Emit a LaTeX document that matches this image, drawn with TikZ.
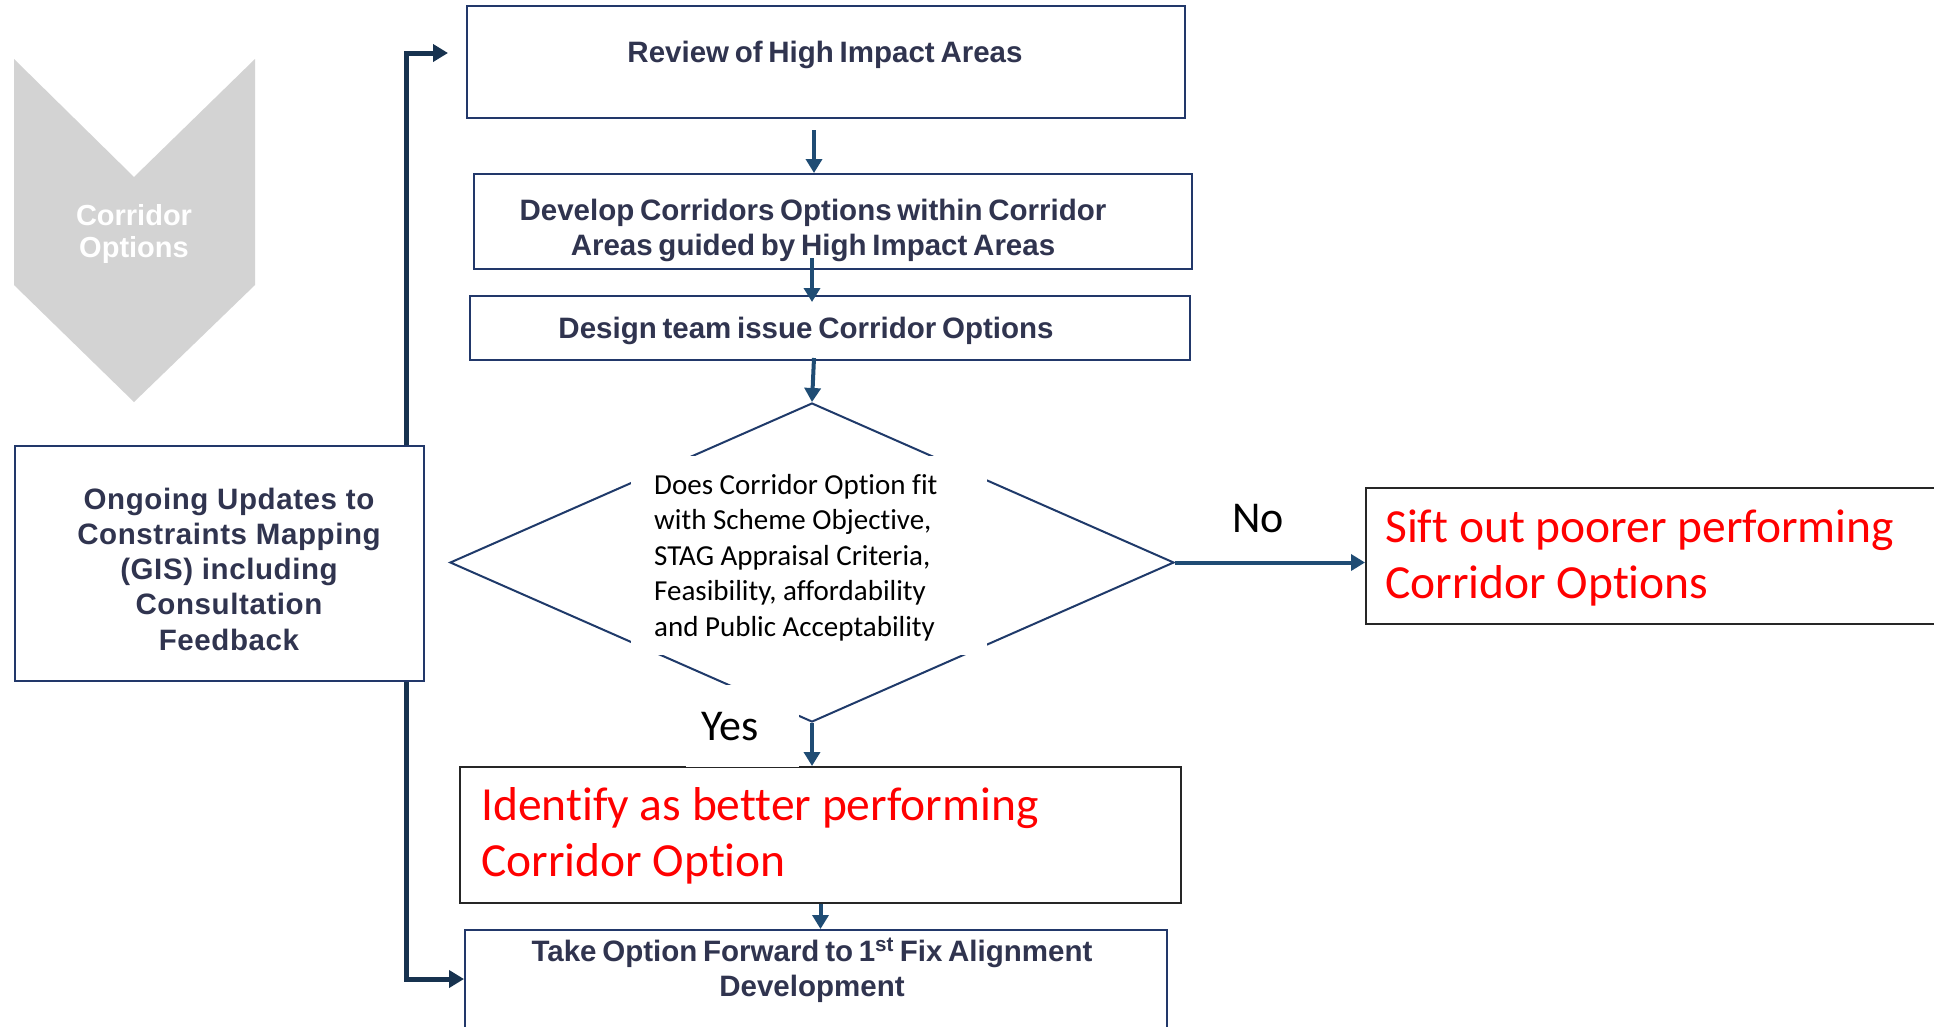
\documentclass[tikz,border=0pt]{standalone}
\usepackage{fontspec}
\setmainfont[Ligatures=NoCommon]{Carlito}
\newfontfamily\boxfont[WordSpace=0.7]{Liberation Sans}
\newfontfamily\fbfont[LetterSpace=2]{Liberation Sans}
\usetikzlibrary{arrows.meta,shapes.geometric}
\definecolor{boxblue}{HTML}{22386A}
\definecolor{txtnavy}{HTML}{30344F}
\definecolor{arrblue}{HTML}{1F4C74}
\definecolor{fbblue}{HTML}{17324F}
\definecolor{diablue}{HTML}{1F3A6A}
\definecolor{chevgray}{HTML}{D3D3D3}
\begin{document}
\begin{tikzpicture}[x=1pt,y=-1pt,
  box/.style={draw=boxblue, line width=2pt, inner sep=0pt, anchor=north west},
  redbox/.style={draw=black!85, line width=2pt, inner sep=0pt, anchor=north west, fill=white},
  bt/.style={inner sep=0pt, anchor=base, text=txtnavy, font=\boxfont\bfseries\fontsize{29.5}{35.3}\selectfont},
  rt/.style={inner sep=0pt, anchor=base west, text=red, font=\fontsize{47.5}{56.5}\selectfont},
  lbl/.style={inner sep=0pt, anchor=base west, text=black, font=\fontsize{44}{50}\selectfont},
  arr/.style={draw=arrblue, line width=4pt, -{Triangle[length=14pt,width=16pt]}},
  fbarr/.style={draw=fbblue, line width=5pt, -{Triangle[length=15pt,width=17pt]}}]
\useasboundingbox (0,0) rectangle (1934,1026);
\clip (0,0) rectangle (1934,1026);
\fill[white] (0,0) rectangle (1934,1026);

% chevron
\fill[chevgray] (14,59) -- (134,177) -- (255,59) -- (255,285) -- (134,402) -- (14,285) -- cycle;
\node[bt, text=white, font=\boxfont\bfseries\fontsize{29}{32}\selectfont] (chevt) at (134,225)
  {\parbox[t]{200pt}{\centering Corridor\\Options}};

% boxes
\node[box, minimum width=718pt, minimum height=112pt] (review) at (466,5) {};
\node[bt] (reviewt) at (825,62) {Review of High Impact Areas};

\node[box, minimum width=718pt, minimum height=95pt] (dev) at (473,173) {};
\node[bt] (devt) at (813,220) {\parbox[t]{700pt}{\centering Develop Corridors Options within Corridor\\Areas guided by High Impact Areas}};

\node[box, minimum width=720pt, minimum height=64pt] (design) at (469,295) {};
\node[bt] (designt) at (806,338) {Design team issue Corridor Options};

\node[box, minimum width=409pt, minimum height=235pt] (fb) at (14,445) {};
\node[bt, font=\fbfont\bfseries\fontsize{29.5}{35.3}\selectfont] (fbt) at (229,509)
  {\parbox[t]{400pt}{\centering Ongoing Updates to\\Constraints Mapping\\(GIS) including\\Consultation\\Feedback}};

\node[redbox, minimum width=580pt, minimum height=136pt] (sift) at (1365,487) {};
\node[rt] (siftt) at (1385,542) {\parbox[t]{560pt}{Sift out poorer performing\\Corridor Options}};

\node[redbox, minimum width=721pt, minimum height=136pt] (ident) at (459,766) {};
\node[rt] (identt) at (481,820) {\parbox[t]{690pt}{Identify as better performing\\Corridor Option}};

\node[box, minimum width=702pt, minimum height=98pt] (take) at (464,929) {};
\node[bt] (taket) at (812,961) {\parbox[t]{700pt}{\centering Take Option Forward to 1\textsuperscript{st} Fix Alignment\\Development}};

% decision
\node[diamond, draw=diablue, line width=2pt, minimum width=724pt, minimum height=319pt, inner sep=0pt] (dec) at (812,562.5) {};
\node[fill=white, minimum width=356pt, minimum height=199pt, inner sep=0pt, anchor=north west] (qbg) at (631,456) {};
\node[inner sep=0pt, anchor=base west, font=\fontsize{29}{35.5}\selectfont] (qt) at (654,494)
  {\parbox[t]{330pt}{Does Corridor Option fit\\with Scheme Objective,\\STAG Appraisal Criteria,\\Feasibility, affordability\\and Public Acceptability}};

% labels
\node[fill=white, minimum width=113pt, minimum height=82pt, inner sep=0pt, anchor=north west] (yesbg) at (686,685) {};
\node[lbl] (yes) at (701,740) {Yes};
\node[lbl] (no) at (1232,532) {No};

% connectors
\draw[arr] ([xshift=-12pt,yshift=-11pt]review.south) -- ([xshift=-12pt]review.south |- dev.north);
\draw[arr] ([xshift=-21pt,yshift=12pt]dev.south) -- ([xshift=-18pt,yshift=-7pt]design.north);
\draw[arr] ([xshift=-16pt,yshift=3pt]design.south) -- (dec.north);
\draw[arr] (dec.east) -- (dec.east -| sift.west);
\draw[arr] (dec.south) -- (dec.south |- ident.north);
\draw[arr] (ident.south) -- (ident.south |- take.north);
\draw[fbarr] ([xshift=-19pt]fb.north east) |- ([xshift=-18pt,yshift=9pt]review.west);
\draw[fbarr] ([xshift=-19pt]fb.south east) |- (take.west);
\end{tikzpicture}
\end{document}
